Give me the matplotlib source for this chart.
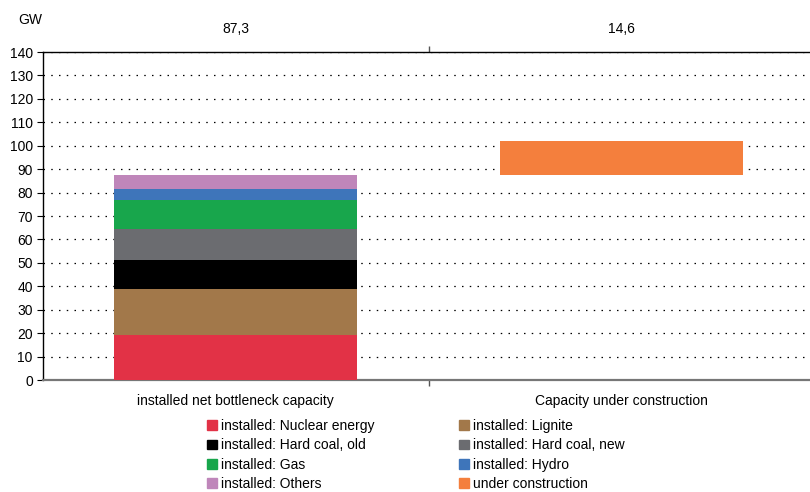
import numpy as np
import matplotlib.pyplot as plt
from matplotlib.patches import Patch

plt.rcParams['font.family'] = ['Liberation Sans', 'DejaVu Sans']

categories = ['installed net bottleneck capacity', 'Capacity under construction']
sources = ['installed: Nuclear energy', 'installed: Lignite', 'installed: Hard coal, old',
           'installed: Hard coal, new', 'installed: Gas', 'installed: Hydro', 'installed: Others']
installed = [19.2, 19.6, 12.3, 13.3, 12.6, 4.4, 5.9]
under_construction = 14.6
colors = ['#E23246', '#A2784A', '#000000', '#6B6C70', '#18A64C', '#3E75BA', '#BF86BA']
uc_color = '#F47F3D'

fs = 10
fig = plt.figure(figsize=(8.1, 4.92), dpi=100)
ax = fig.add_axes([42.5 / 810, 112 / 492, 772 / 810, 328 / 492])

width = 0.63
bottom = 0
for val, c, name in zip(installed, colors, sources):
    ax.bar(0, val, width, bottom=bottom, color=c, zorder=3, label=name)
    bottom += val
total = bottom
# new capacity stacked on top of the installed total
ax.bar(1, under_construction, width, bottom=total, color=uc_color, zorder=3)

ax.set_xlim(-0.5, 1.5)
ax.set_ylim(0, 140)
ax.set_yticks(np.arange(0, 141, 10))
ax.yaxis.grid(True, color='black', linestyle=(0, (1.2, 5)), linewidth=0.9, zorder=1)
ax.tick_params(axis='y', labelsize=fs, length=4, width=0.8, pad=3)

ax.set_xticks([0.5])
ax.set_xticklabels([])
ax.set_xticks([0, 1], minor=True)
ax.set_xticklabels(categories, minor=True, fontsize=fs)
ax.tick_params(axis='x', which='major', length=4, width=1, color='#555555', top=True)
ax.tick_params(axis='x', which='minor', length=0, pad=10)

ax.spines['right'].set_visible(False)
ax.spines['top'].set_color('black')
ax.spines['top'].set_linewidth(1.0)
ax.spines['left'].set_color('black')
ax.spines['left'].set_linewidth(1.0)
ax.spines['bottom'].set_color('#777777')
ax.spines['bottom'].set_linewidth(1.6)

# totals above each column
for x, v in zip([0, 1], [total, under_construction]):
    ax.annotate(f'{v:.1f}'.replace('.', ','), xy=(x, 1), xycoords=('data', 'axes fraction'),
                xytext=(0, 16.5), textcoords='offset points', ha='center', va='center', fontsize=fs)
fig.text(30 / 810, 1 - 20 / 492, 'GW', ha='center', va='center', fontsize=fs)

handles = [Patch(color=c) for c in colors] + [Patch(color=uc_color)]
labels = sources + ['under construction']
order = [0, 2, 4, 6, 1, 3, 5, 7]
fig.legend([handles[i] for i in order], [labels[i] for i in order], ncol=2,
           loc='upper left', bbox_to_anchor=(207 / 810, 1 - 419 / 492), frameon=False,
           fontsize=fs, handlelength=0.7, handleheight=0.7, handletextpad=0.3,
           labelspacing=0.38, columnspacing=6.1, borderaxespad=0, borderpad=0)

fig.savefig('out.png', dpi=100)
